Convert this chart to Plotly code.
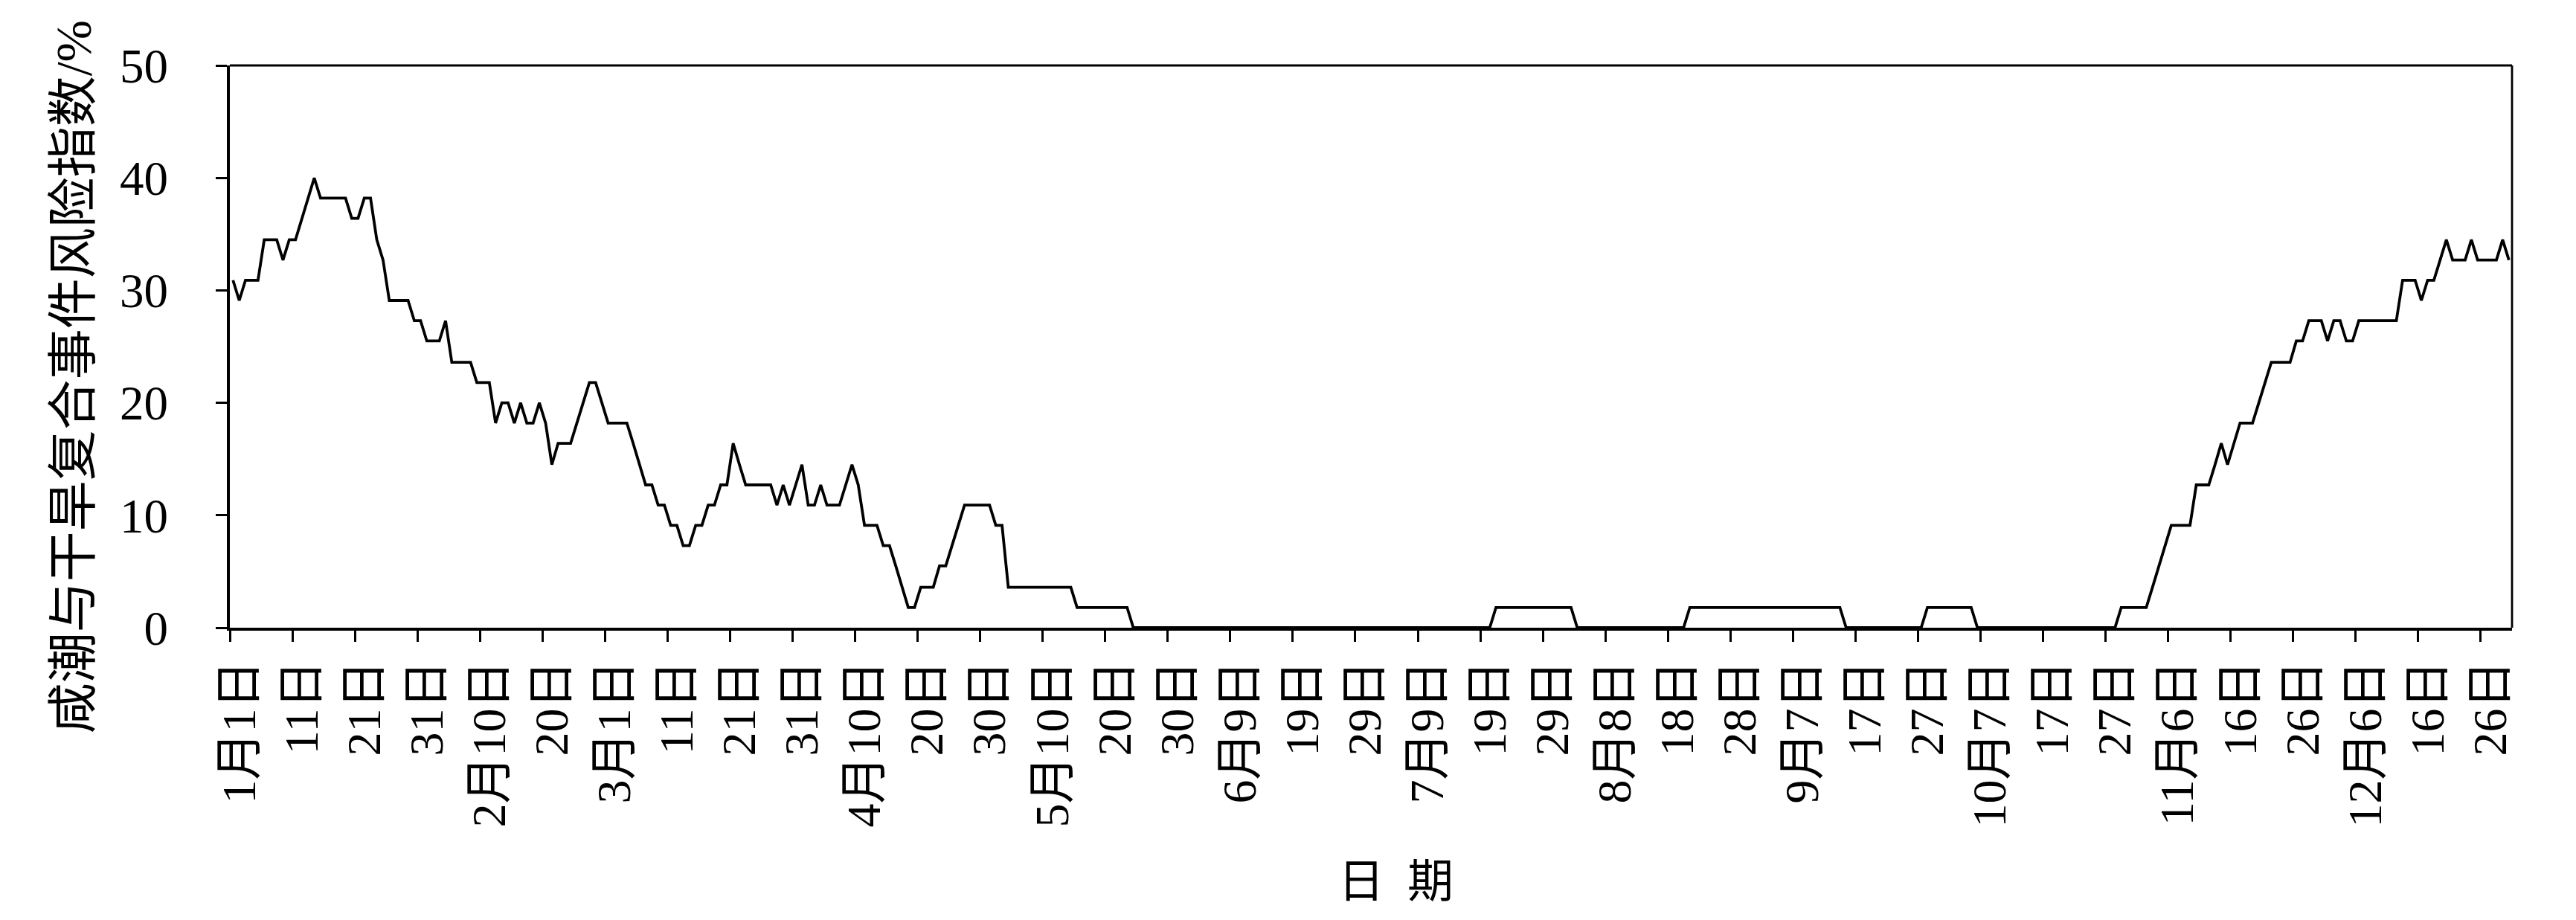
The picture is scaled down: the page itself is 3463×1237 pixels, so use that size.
import plotly.graph_objects as go
import pandas as pd

# Daily risk index (%), 2020-01-01 .. 2020-12-30
jan = [30.9, 29.1, 30.9, 30.9, 30.9, 34.5, 34.5, 34.5, 32.7, 34.5, 34.5, 36.4, 38.2, 40.0, 38.2, 38.2,
       38.2, 38.2, 38.2, 36.4, 36.4, 38.2, 38.2, 34.5, 32.7, 29.1, 29.1, 29.1, 29.1, 27.3, 27.3]
feb = [25.5, 25.5, 25.5, 27.3, 23.6, 23.6, 23.6, 23.6, 21.8, 21.8, 21.8, 18.2, 20.0, 20.0, 18.2, 20.0,
       18.2, 18.2, 20.0, 18.2, 14.5, 16.4, 16.4, 16.4, 18.2, 20.0, 21.8, 21.8, 20.0]
mar = [18.2, 18.2, 18.2, 18.2, 16.4, 14.5, 12.7, 12.7, 10.9, 10.9, 9.1, 9.1, 7.3, 7.3, 9.1, 9.1,
       10.9, 10.9, 12.7, 12.7, 16.4, 14.5, 12.7, 12.7, 12.7, 12.7, 12.7, 10.9, 12.7, 10.9, 12.7]
apr = [14.5, 10.9, 10.9, 12.7, 10.9, 10.9, 10.9, 12.7, 14.5, 12.7, 9.1, 9.1, 9.1, 7.3, 7.3, 5.5,
       3.6, 1.8, 1.8, 3.6, 3.6, 3.6, 5.5, 5.5, 7.3, 9.1, 10.9, 10.9, 10.9, 10.9]
may = [10.9, 9.1, 9.1, 3.6, 3.6, 3.6, 3.6, 3.6, 3.6, 3.6, 3.6, 3.6, 3.6, 3.6, 1.8, 1.8,
       1.8, 1.8, 1.8, 1.8, 1.8, 1.8, 1.8, 0, 0, 0, 0, 0, 0, 0, 0]
jun = [0, 0, 0, 0, 0, 0, 0, 0, 0, 0, 0, 0, 0, 0, 0, 0, 0, 0, 0, 0, 0, 0, 0, 0, 0, 0, 0, 0, 0, 0]
jul = [0, 0, 0, 0, 0, 0, 0, 0, 0, 0, 0, 0, 0, 0, 0, 0, 0, 0, 0, 0,
       1.8, 1.8, 1.8, 1.8, 1.8, 1.8, 1.8, 1.8, 1.8, 1.8, 1.8]
aug = [1.8, 1.8, 0, 0, 0, 0, 0, 0, 0, 0, 0, 0, 0, 0, 0, 0, 0, 0, 0, 0,
       1.8, 1.8, 1.8, 1.8, 1.8, 1.8, 1.8, 1.8, 1.8, 1.8, 1.8]
sep = [1.8, 1.8, 1.8, 1.8, 1.8, 1.8, 1.8, 1.8, 1.8, 1.8, 1.8, 1.8, 1.8, 1.8,
       0, 0, 0, 0, 0, 0, 0, 0, 0, 0, 0, 0, 0, 1.8, 1.8, 1.8]
oct_ = [1.8, 1.8, 1.8, 1.8, 1.8, 0, 0, 0, 0, 0, 0, 0, 0, 0, 0, 0, 0, 0, 0, 0, 0, 0, 0, 0, 0, 0, 0, 0,
        1.8, 1.8, 1.8]
nov = [1.8, 1.8, 3.6, 5.5, 7.3, 9.1, 9.1, 9.1, 9.1, 12.7, 12.7, 12.7, 14.5, 16.4, 14.5, 16.4,
       18.2, 18.2, 18.2, 20.0, 21.8, 23.6, 23.6, 23.6, 23.6, 25.5, 25.5, 27.3, 27.3, 27.3]
dec = [25.5, 27.3, 27.3, 25.5, 25.5, 27.3, 27.3, 27.3, 27.3, 27.3, 27.3, 27.3, 30.9, 30.9, 30.9, 29.1,
       30.9, 30.9, 32.7, 34.5, 32.7, 32.7, 32.7, 34.5, 32.7, 32.7, 32.7, 32.7, 34.5, 32.7]

months = [jan, feb, mar, apr, may, jun, jul, aug, sep, oct_, nov, dec]
lengths = [31, 29, 31, 30, 31, 30, 31, 31, 30, 31, 30, 30]
for m, n in zip(months, lengths):
    assert len(m) == n, (len(m), n)

values = [v for m in months for v in m]

tick_labels = ["1月1日", "11日", "21日", "31日", "2月10日", "20日", "3月1日", "11日", "21日", "31日",
               "4月10日", "20日", "30日", "5月10日", "20日", "30日", "6月9日", "19日", "29日",
               "7月9日", "19日", "29日", "8月8日", "18日", "28日", "9月7日", "17日", "27日",
               "10月7日", "17日", "27日", "11月6日", "16日", "26日", "12月6日", "16日", "26日"]
y_ticks = [0, 10, 20, 30, 40, 50]

dates = pd.date_range("2020-01-01 12:00", periods=len(values), freq="D")
tick_dates = pd.date_range("2020-01-01", periods=len(tick_labels), freq="10D")

FONT = "Liberation Serif, Times New Roman, Noto Sans CJK SC, serif"

fig = go.Figure(go.Scatter(x=dates, y=values, mode="lines",
                           line=dict(color="black", width=3.8), hoverinfo="skip"))

# The page body has an 8 px default margin; the figure size compensates for it.
fig.update_layout(
    width=3447, height=1221,
    margin=dict(l=301, r=78, t=80, b=385),
    plot_bgcolor="white", paper_bgcolor="white",
    showlegend=False,
    font=dict(family=FONT, color="black", size=64),
    xaxis=dict(
        type="date", range=["2020-01-01", "2020-12-31"],
        tickmode="array", tickvals=tick_dates, ticktext=tick_labels,
        tickangle=-90, ticks="outside", ticklen=15, tickwidth=3.3, tickcolor="black",
        showline=True, linewidth=4, linecolor="black", mirror=False,
        showgrid=False, zeroline=False, automargin=False,
        tickfont=dict(family=FONT, size=64, color="black"),
        ticklabelstandoff=0, ticklabelshift=13,
    ),
    yaxis=dict(
        range=[0, 50], tickmode="array", tickvals=y_ticks,
        ticks="outside", ticklen=15, tickwidth=3.3, tickcolor="black",
        showline=True, linewidth=4, linecolor="black", mirror=False,
        showgrid=False, zeroline=False, automargin=False,
        tickfont=dict(family=FONT, size=65, color="black"),
        ticklabelstandoff=51,
    ),
    shapes=[
        dict(type="line", xref="paper", yref="paper", x0=0, x1=1, y0=1, y1=1,
             line=dict(color="black", width=2.8)),
        dict(type="line", xref="paper", yref="paper", x0=1, x1=1, y0=0, y1=1,
             line=dict(color="black", width=2.8)),
    ],
    annotations=[
        dict(text="咸潮与干旱复合事件风险指数/%", textangle=-90, xref="paper", yref="paper",
             x=-0.0686, y=0.446, xanchor="center", yanchor="middle", showarrow=False,
             font=dict(family=FONT, size=68, color="black")),
        dict(text="日  期", xref="paper", yref="paper", x=0.5108, y=-0.452,
             xanchor="center", yanchor="middle", showarrow=False,
             font=dict(family=FONT, size=62, color="black")),
    ],
)

fig.write_html("out.html")
